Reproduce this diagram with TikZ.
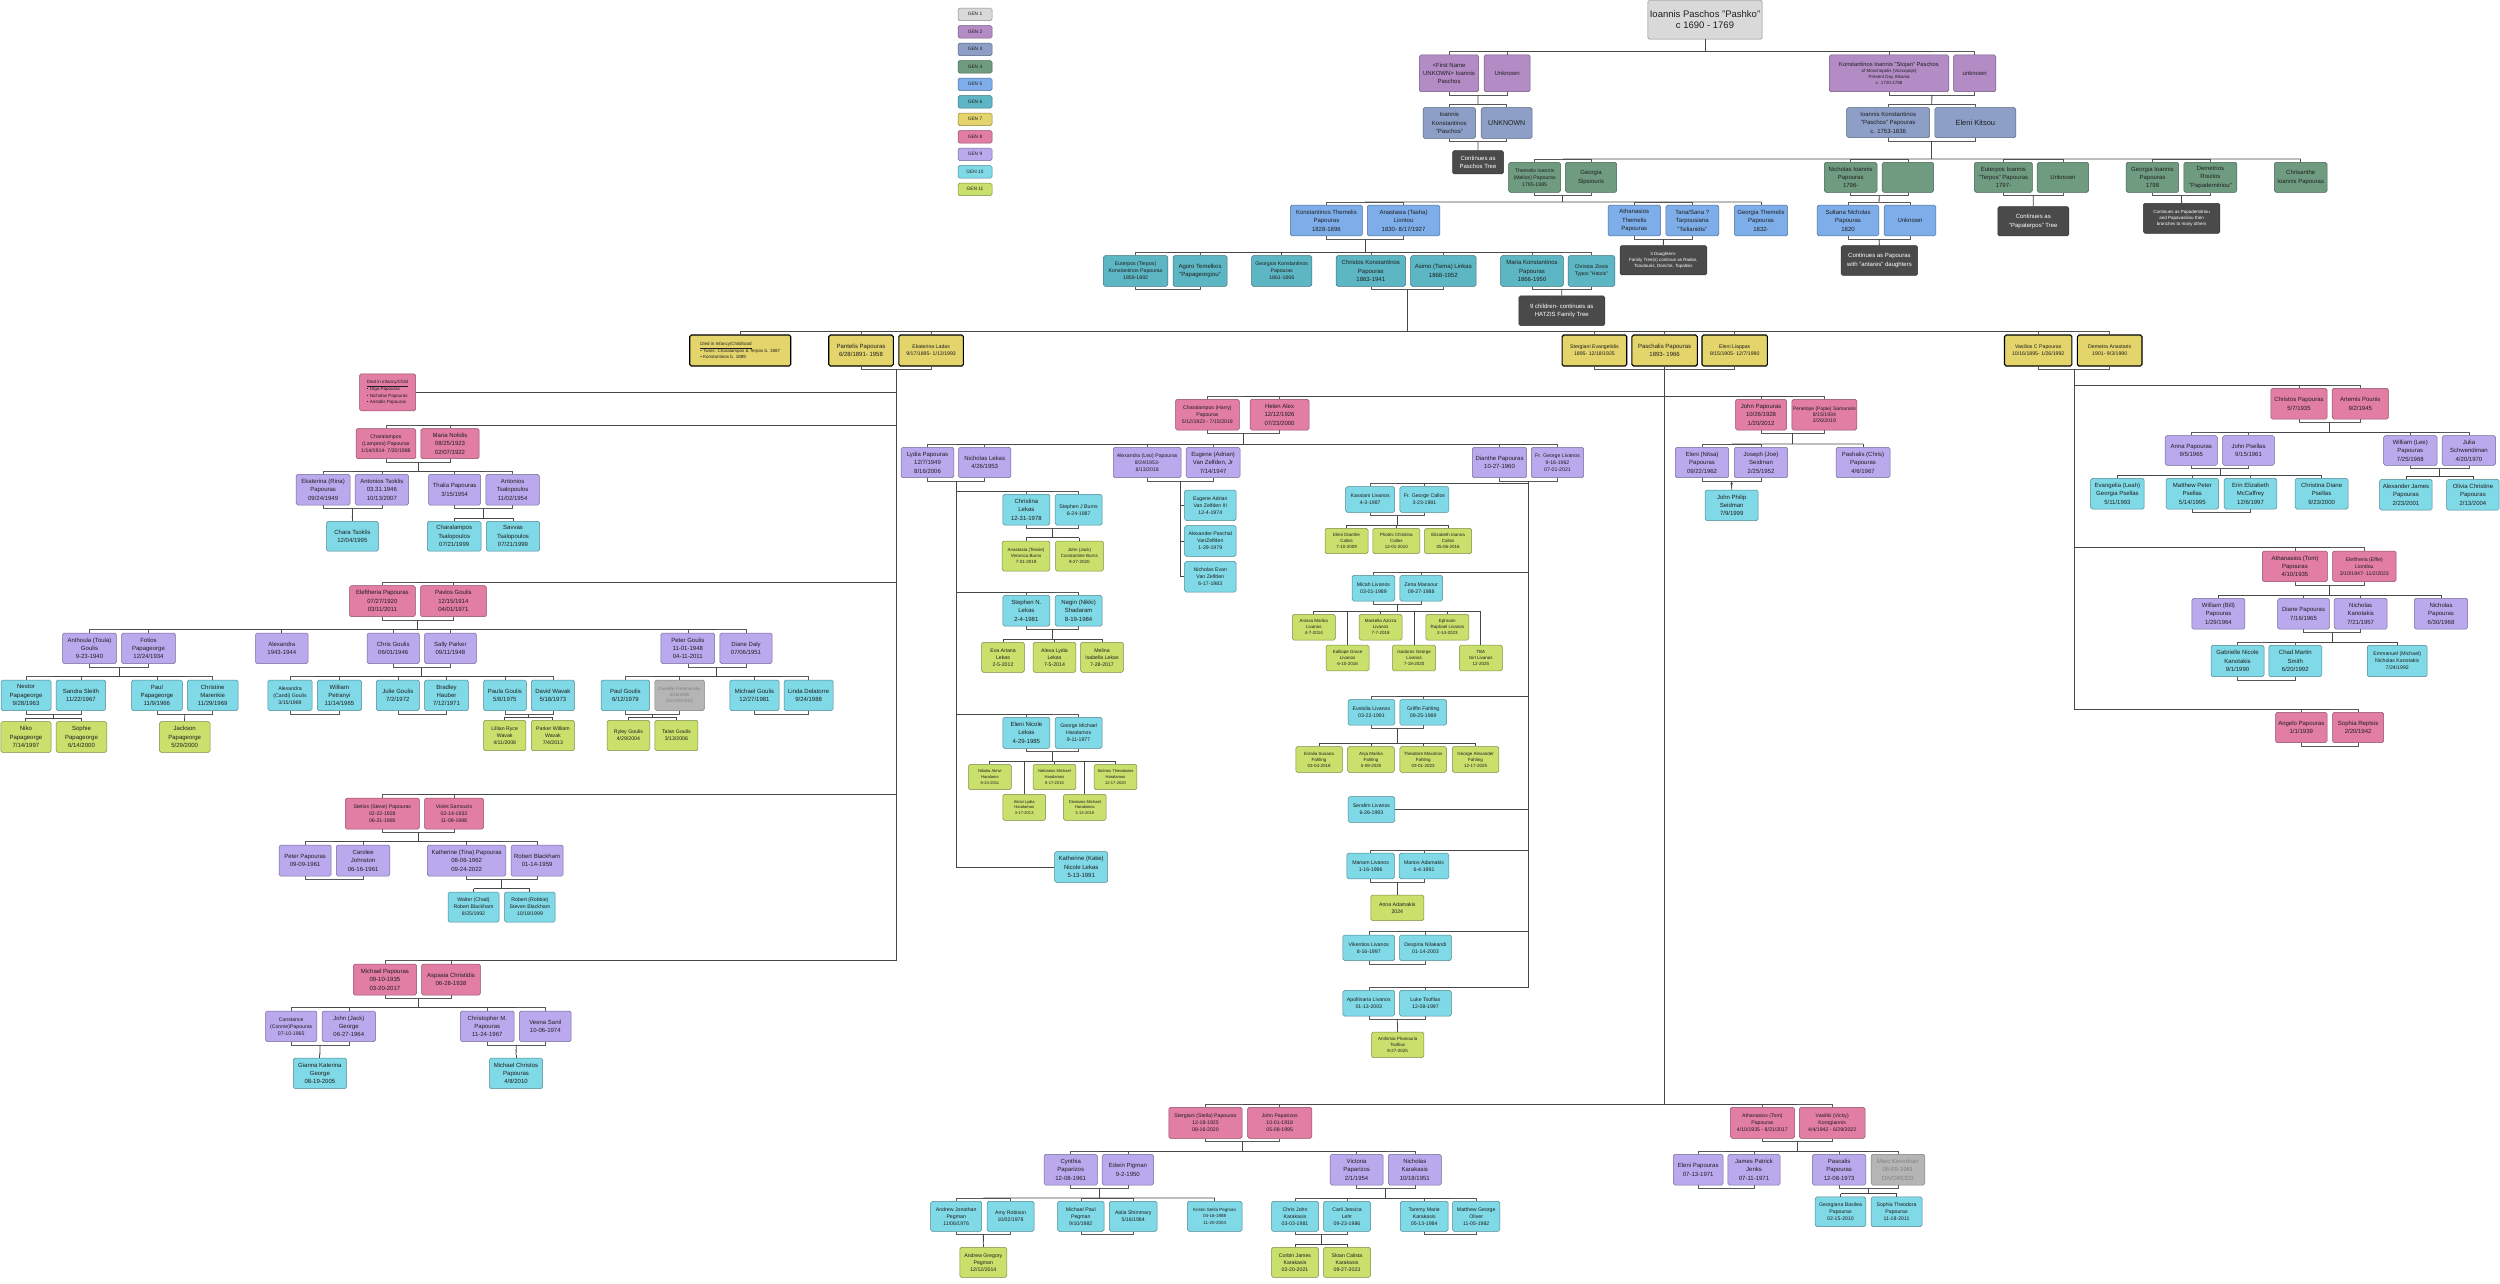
\documentclass[tikz,border=0pt]{standalone}
\usepackage{fontspec}
\setmainfont{Liberation Sans}
\usetikzlibrary{calc,arrows.meta}

\definecolor{genA}{HTML}{D9D9D9}
\definecolor{genB}{HTML}{B38CC6}
\definecolor{genC}{HTML}{8D9FC7}
\definecolor{genD}{HTML}{6F9C81}
\definecolor{genE}{HTML}{7EAEEA}
\definecolor{genF}{HTML}{5DB6C3}
\definecolor{genG}{HTML}{E3D46C}
\definecolor{genH}{HTML}{E27DA3}
\definecolor{genI}{HTML}{BBA9EE}
\definecolor{genJ}{HTML}{80D9E6}
\definecolor{genK}{HTML}{C9E06C}
\definecolor{darkbox}{HTML}{4A4A4A}
\definecolor{divgray}{HTML}{B5B5B5}

\tikzset{
  box/.style={rectangle, rounded corners=1.6pt, line width=0.5pt, align=center,
    inner sep=0.6pt, minimum height=30.6pt, text=black!88,
    font=\fontsize{6}{8.4}\selectfont},
  gen/.style={box, fill=#1, draw=#1!62!black},
  g1/.style={gen=genA}, g2/.style={gen=genB}, g3/.style={gen=genC},
  g4/.style={gen=genD}, g5/.style={gen=genE}, g6/.style={gen=genF},
  g7/.style={box, fill=genG, draw=black, line width=1.1pt},
  g8/.style={gen=genH}, g9/.style={gen=genI}, g10/.style={gen=genJ},
  g11/.style={gen=genK},
  dark/.style={box, fill=darkbox, draw=darkbox!70!black, text=white},
  div/.style={box, fill=divgray, draw=divgray!70!black, text=black!50},
  wd/.style={minimum width=#1pt},
  ht/.style={minimum height=#1pt},
  low/.style={minimum height=25.6pt},
  fine/.style={font=\fontsize{5.2}{7}\selectfont},
  tiny/.style={font=\fontsize{4.5}{6.1}\selectfont},
  micro/.style={font=\fontsize{4.1}{5.7}\selectfont},
  leg/.style={minimum width=34pt, minimum height=12.5pt, font=\fontsize{4.8}{5}\selectfont},
  link/.style={draw=black!72, line width=0.85pt},
  bond/.style={draw=black!65, line width=0.55pt},
}

% couple brackets above and below, with hang points T and B
\newcommand{\marry}[2]{%
  \draw[bond] (#1.north) -- ++(0,3pt) -| (#2.north);
  \draw[bond] (#1.south) -- ++(0,-3pt) -| (#2.south);
  \coordinate (#1T) at ($(#1.north)!.5!(#2.north)+(0,3pt)$);
  \coordinate (#1B) at ($(#1.south)!.5!(#2.south)+(0,-3pt)$);}
\newcommand{\lone}[1]{%
  \coordinate (#1T) at ($(#1.north)+(0,3pt)$);
  \coordinate (#1B) at (#1.south);
  \draw[link] (#1T) -- (#1.north);}
\newcommand{\brood}[3]{%
  \draw[link] (#1B) -- (#1B |- #2T);
  \draw[link] (#2T) -- (#3T);}
\newcommand{\twig}[2]{\draw[link] (#1B |- #2) -- (#2);}

\begin{document}
\begin{tikzpicture}[x=1pt, y=-1pt]
\useasboundingbox (0,0) rectangle (2500,1283);

% Legend
\foreach \i/\c in {1/genA,2/genB,3/genC,4/genD,5/genE,6/genF,7/genG,8/genH,9/genI,10/genJ,11/genK}
  \node[gen=\c, leg] (leg\i) at (975,{14.3+17.5*(\i-1)}) {GEN \i};

% Generation 1-3
\node[g1, wd=114.4, ht=39, font=\fontsize{9.5}{11.5}\selectfont] (ioannis) at (1705,19.7) {Ioannis Paschos "Pashko"\\c 1690 - 1769};
\node[g2, wd=59.4, ht=36.7] (fname) at (1449,73.3) {<First Name\\UNKOWN> Ioannis\\Paschos};
\node[g2, wd=46.2, ht=36.7] (unkA) at (1507.1,73.3) {Unknown};
\node[g2, wd=119.5, ht=36.7, tiny] (stojan) at (1889,73.3) {{\fontsize{5.8}{6.4}\selectfont Konstantinos Ioannis "Stojan" Paschos}\\of Moschopolis (Voscopoje)\\Present Day Albania\\c. 1720-1788};
\node[g2, wd=42.3, ht=36.7] (unkB) at (1974.7,73.3) {unknown};
\node[g3, wd=52.6] (ikp) at (1449.3,123) {Ioannis\\Konstantinos\\"Paschos"};
\node[g3, wd=51, font=\fontsize{7}{8}\selectfont] (unkC) at (1506.7,123) {UNKNOWN};
\node[g3, wd=83, ht=30] (ikpb) at (1888.2,122.7) {Ioannis Konstantinos\\"Paschos" Papouras\\c. 1753-1836};
\node[g3, wd=81, ht=30, font=\fontsize{7.5}{8}\selectfont] (kitsou) at (1975.3,122.7) {Eleni Kitsou};
\node[dark, wd=51, ht=23.3] (contPaschos) at (1478,162.3) {Continues as\\Paschos Tree};

% Generation 4
\node[g4, wd=51.8, ht=30, fine] (themelis) at (1534.6,177.3) {Themelis Ioannis\\(Melios) Papouras\\1795-1885};
\node[g4, wd=51.4, ht=30] (georgiaS) at (1591,177.3) {Georgia\\Sipsiouris};
\node[g4, wd=52.6, ht=30] (nicholasI) at (1850.7,177.3) {Nicholas Ioannis\\Papouras\\1796-};
\node[g4, wd=51.4, ht=30] (emptyG) at (1907.9,177.3) {};
\node[g4, wd=58, ht=30] (euterposI) at (2003.4,177.3) {Euterpos Ioannis\\"Terpos" Papouras\\1797-};
\node[g4, wd=51.4, ht=30] (unkD) at (2062.9,177.3) {Unknown};
\node[g4, wd=52.6, ht=30] (georgiaI) at (2152.4,177.3) {Georgia Ioannis\\Papouras\\1798};
\node[g4, wd=53, ht=30] (demetrios) at (2210.4,177.3) {Demetrios\\Roulios\\"Papademitriou"};
\node[g4, wd=52.6, ht=30] (chrisanthe) at (2300.7,177.3) {Chrisanthe\\Ioannis Papouras};

% Generation 5
\node[g5, wd=72] (konstT) at (1326.4,220.5) {Konstantinos Themelis\\Papouras\\1828-1896};
\node[g5, wd=72.5] (anastasia) at (1403.5,220.5) {Anastasia (Tasha)\\Liontou\\1830- 8/17/1927};
\node[g5, wd=52.6] (athanasiosT) at (1634.3,220.5) {Athanasios\\Themelis\\Papouras};
\node[g5, wd=53] (tana) at (1692.3,220.5) {Tana/Sana ?\\Tarpousiana\\"Tsilianidis"};
\node[g5, wd=53.4] (georgiaT) at (1761,220.5) {Georgia Themelis\\Papouras\\1832-};
\node[g5, wd=61.8] (sultana) at (1848,220.5) {Sultana Nicholas\\Papouras\\1820};
\node[g5, wd=51.8] (unkE) at (1910,220.5) {Unknown};
\node[dark, wd=71, ht=29.3] (contTerpos) at (2033.3,221.3) {Continues as\\"Papaterpos" Tree};
\node[dark, wd=76.5, ht=30, tiny] (contPapadem) at (2181.6,218.3) {Continues as Papademitriou\\and Papavasiliou then\\branches to many others};

% Generation 6
\node[g6, wd=64.6, fine] (euterposK) at (1135.6,271) {Euterpos (Terpos)\\Konstantinos Papouras\\1859-1892};
\node[g6, wd=54] (agoro) at (1200,271) {Agoro Temelkos\\"Papageorgiou"};
\node[g6, wd=60.2, fine] (georgios) at (1281.7,271) {Georgios Konstantinos\\Papouras\\1861-1866};
\node[g6, wd=69.4] (christosK) at (1370.8,271) {Christos Konstantinos\\Papouras\\1863-1941};
\node[g6, wd=65.4] (asimo) at (1443.3,271) {Asimo (Tsima) Linkas\\1868-1952};
\node[g6, wd=62.6] (mariaK) at (1532,271) {Maria Konstantinos\\Papouras\\1866-1950};
\node[g6, wd=46.7, fine] (christosZ) at (1591.4,271) {Christos Zissis\\Typos "Hatzis"};
\node[dark, wd=86.8, ht=29.3, tiny] (daughters) at (1663.4,260.3) {3 Daughters-\\Family Tree(s) continue as Rados,\\Tsoutouris, Donche, Topaltsis};
\node[dark, wd=76.6, ht=29.6] (contAntares) at (1879.4,260.5) {Continues as Papouras\\with "antares" daughters};
\node[dark, wd=86, ht=29.7] (hatzis) at (1561.8,310.8) {9 children- continues as\\HATZIS Family Tree};

% Generation 7
\node[g7, wd=101, ht=31, tiny, align=left] (diedY) at (740.2,350.5) {\underline{Died in Infancy/Childhood}\\• Twins: Charalampos \& Terpos b. 1887\\• Konstantinos b. 1889};
\node[g7, wd=64.6, ht=31] (pantelis) at (861,350.5) {Pantelis Papouras\\6/28/1891- 1958};
\node[g7, wd=64.6, ht=31, fine] (ekaterinaL) at (931.1,350.5) {Ekaterina Ladas\\9/17/1895- 1/13/1993};
\node[g7, wd=64.6, ht=31, fine] (stergianiE) at (1594.4,350.5) {Stergiani Evangelidis\\1895- 12/18/1925};
\node[g7, wd=65.4, ht=31] (paschalis) at (1664.6,350.5) {Paschalis Papouras\\1893- 1966};
\node[g7, wd=65.4, ht=31, fine] (eleniL) at (1734.7,350.5) {Eleni Liappas\\8/15/1905- 12/7/1990};
\node[g7, wd=67.4, ht=31, fine] (vasilios) at (2038.2,350.5) {Vasilios C Papouras\\10/16/1895- 1/26/1992};
\node[g7, wd=64.6, ht=31, fine] (demetra) at (2109.7,350.5) {Demetra Anastaris\\1901- 9/3/1990};

% Generation 8
\node[g8, wd=56, ht=37, tiny, align=left] (diedP) at (387.6,392.3) {\underline{Died in Infancy/Child}\\• Olga Papouras\\• Nicholas Papouras\\• Aristidis Papouras};
\node[g8, wd=59.8, ht=30, fine] (lampros) at (385.9,443.7) {Charalampos\\(Lampros) Papouras\\1/14/1914- 7/20/1988};
\node[g8, wd=58.2, ht=30] (mariaN) at (450,443.7) {Maria Nolidis\\08/25/1923\\02/07/1922};
\node[g8, wd=63.8, fine] (harry) at (1207.4,414.7) {Charalampos (Harry)\\Papouras\\5/12/1923 - 7/15/2019};
\node[g8, wd=59] (helen) at (1279.5,414.7) {Helen Alex\\12/12/1926\\07/23/2000};
\node[g8, wd=51] (johnP) at (1761,414.7) {John Papouras\\10/26/1928\\1/20/2012};
\node[g8, wd=65, tiny] (penelope) at (1824.4,414.7) {{\fontsize{5}{6}\selectfont Penelope (Popie) Samararis}\\{\fontsize{5.2}{6}\selectfont 8/15/1934}\\{\fontsize{5.2}{6}\selectfont 2/26/2019}};
\node[g8, wd=65.7, ht=31] (eleftheria) at (382.4,601.2) {Eleftheria Papouras\\07/27/1920\\03/11/2011};
\node[g8, wd=65.8, ht=31] (pavlos) at (453.4,601.2) {Pavlos Goulis\\12/15/1914\\04/01/1971};
\node[g8, wd=74.1, ht=31, fine] (stelios) at (382.3,813.5) {Stelios (Steve) Papouras\\02-22-1928\\06-21-1995};
\node[g8, wd=59, ht=31, fine] (violet) at (454,813.5) {Violet Samouris\\02-14-1933\\11-09-1998};
\node[g8, wd=63.3, ht=31] (michaelP) at (384.9,979.5) {Michael Papouras\\09-10-1935\\03-20-2017};
\node[g8, wd=58.6, ht=31] (aspasia) at (451,979.5) {Aspasia Christidis\\06-28-1938};
\node[g8, wd=73.3, ht=31, fine] (stella) at (1205.4,1122.8) {Stergiani (Stella) Papouras\\12-18-1925\\08-16-2020};
\node[g8, wd=64.2, ht=31, fine] (johnPz) at (1279.7,1122.8) {John Paparizos\\10-01-1918\\05-08-1995};
\node[g8, wd=64.2, ht=31, fine] (tomA) at (1762.4,1122.8) {Athanasios (Tom)\\Papouras\\4/10/1935 - 8/21/2017};
\node[g8, wd=65.7, ht=31, fine] (vicky) at (1832.2,1122.8) {Vasiliki (Vicky)\\Korogiannis\\4/4/1942 - 6/29/2022};
\node[g8, wd=56.2] (christosP) at (2298.9,403.7) {Christos Papouras\\5/7/1935};
\node[g8, wd=56.2] (artemis) at (2360.3,403.7) {Artemis Pounis\\9/2/1945};
\node[g8, wd=65] (tomB) at (2294.9,566.3) {Athanasios (Tom)\\Papouras\\4/10/1935};
\node[g8, wd=63.4, fine] (effie) at (2364.3,566.3) {Eleftheria (Effie)\\Liondou\\3/10/1947- 11/2/2023};
\node[g8, wd=51.4, ht=30.4] (angelo) at (2301.3,727.5) {Angelo Papouras\\1/1/1939};
\node[g8, wd=51, ht=30.4] (sophiaR) at (2358.1,727.5) {Sophia Reptsis\\2/20/1942};

% Generation 9
\node[g9, wd=53.8] (ekaterinaR) at (323.1,489.7) {Ekaterina (Rina)\\Papouras\\09/24/1949};
\node[g9, wd=53.4] (antoniosTk) at (381.9,489.7) {Antonios Tsoklis\\03.31.1946\\10/13/2007};
\node[g9, wd=52.2] (thalia) at (454.6,489.7) {Thalia Papouras\\3/15/1954};
\node[g9, wd=53.4] (antoniosTs) at (512.6,489.7) {Antonios\\Tsalopoulos\\11/02/1954};
\node[g9, wd=53.8] (anthoula) at (89.5,648.3) {Anthoula (Toula)\\Goulis\\9-23-1940};
\node[g9, wd=53.8] (fotios) at (148.5,648.3) {Fotios\\Papageorge\\12/24/1934};
\node[g9, wd=52.6] (alexandraG) at (281.8,648.3) {Alexandra\\1943-1944};
\node[g9, wd=52.2] (chrisG) at (393.2,648.3) {Chris Goulis\\06/01/1946};
\node[g9, wd=51.8] (sally) at (450.4,648.3) {Sally Parker\\09/11/1948};
\node[g9, wd=53.8] (peterG) at (687.8,648.3) {Peter Goulis\\11-01-1948\\04-11-2011};
\node[g9, wd=52.2] (diane) at (746,648.3) {Diane Daly\\07/06/1951};
\node[g9, wd=52.2, ht=31] (peterP) at (305.1,860.5) {Peter Papouras\\09-09-1961};
\node[g9, wd=53.4, ht=31] (carolee) at (363.1,860.5) {Carolee\\Johnston\\06-16-1961};
\node[g9, wd=78.5, ht=31] (katherineT) at (466.6,860.5) {Katherine (Tina) Papouras\\08-06-1962\\09-24-2022};
\node[g9, wd=52.2, ht=31] (robertB) at (537.1,860.5) {Robert Blackham\\01-14-1959};
\node[g9, wd=51.4, fine] (constance) at (291.2,1026.3) {Constance\\(Connie)Papouras\\07-10-1965};
\node[g9, wd=53.4] (johnJack) at (348.8,1026.3) {John (Jack)\\George\\06-27-1964};
\node[g9, wd=53.8] (christopher) at (487.3,1026.3) {Christopher M.\\Papouras\\11-24-1967};
\node[g9, wd=51.8] (veena) at (545.3,1026.3) {Veena Sanil\\10-06-1974};
\node[g9, wd=52.6, ht=30.4] (lydia) at (927.5,462.5) {Lydia Papouras\\12/7/1949\\8/16/2006};
\node[g9, wd=52.2, ht=30.4] (nicholasL) at (984.7,462.5) {Nicholas Lekas\\4/26/1953};
\node[g9, wd=67.8, ht=30.4, fine] (alexandraL) at (1147.2,462.5) {Alexandra (Leo) Papouras\\8/24/1953-\\8/13/2018};
\node[g9, wd=53.8, ht=30.4] (eugeneJr) at (1213.1,462.5) {Eugene (Adrian)\\Van Zelfden, Jr\\7/14/1947};
\node[g9, wd=54.2, ht=30.4] (dianthe) at (1499.5,462.5) {Dianthe Papouras\\10-27-1960};
\node[g9, wd=52.2, ht=30.4, fine] (georgeL) at (1557.5,462.5) {Fr. George Livanos\\9-16-1962\\07-01-2021};
\node[g9, wd=53.4, ht=30.4] (eleniN) at (1702,462.5) {Eleni (Nitsa)\\Papouras\\09/22/1962};
\node[g9, wd=53.4, ht=30.4] (joseph) at (1761,462.5) {Joseph (Joe)\\Seidman\\2/25/1952};
\node[g9, wd=54, ht=30.4] (pashalis) at (1863,462.5) {Pashalis (Chris)\\Papouras\\4/6/1967};
\node[g9, wd=52.2, ht=29.6] (anna) at (2191.3,450.5) {Anna Papouras\\9/5/1965};
\node[g9, wd=51.8, ht=29.6] (johnPs) at (2248.5,450.5) {John Psellas\\9/15/1961};
\node[g9, wd=53.4, ht=29.6] (william) at (2410.3,450.5) {William (Lee)\\Papouras\\7/25/1968};
\node[g9, wd=53.4, ht=29.6] (julia) at (2468.9,450.5) {Julia\\Schwendiman\\4/20/1970};
\node[g9, wd=53] (bill) at (2218.4,613.7) {William (Bill)\\Papouras\\1/29/1964};
\node[g9, wd=51.8] (dianeP) at (2303.5,613.7) {Diane Papouras\\7/16/1965};
\node[g9, wd=53] (nicholasK) at (2360.7,613.7) {Nicholas\\Kanotakis\\7/21/1957};
\node[g9, wd=53.4] (nicholasP) at (2441,613.7) {Nicholas\\Papouras\\6/30/1968};
\node[g9, wd=53.3] (cynthia) at (1070.7,1169.7) {Cynthia\\Paparizos\\12-08-1961};
\node[g9, wd=51.4] (edwin) at (1127.8,1169.7) {Edwin Pigman\\9-2-1950};
\node[g9, wd=53] (victoria) at (1356.6,1169.7) {Victoria\\Paparizos\\2/1/1954};
\node[g9, wd=53] (nicholasKa) at (1414.8,1169.7) {Nicholas\\Karakasis\\10/18/1951};
\node[g9, wd=49.8] (eleniP) at (1698.2,1169.7) {Eleni Papouras\\07-13-1971};
\node[g9, wd=52.2] (james) at (1754,1169.7) {James Patrick\\Jenks\\07-11-1971};
\node[g9, wd=53.4] (pascalis) at (1839.1,1169.7) {Pascalis\\Papouras\\12-08-1973};
\node[div, wd=53.8] (marc) at (1897.9,1169.7) {Marc Kevorkian\\06-09-1981\\DIVORCED};

% Generation 10
\node[g10, wd=51.8, ht=29.7] (chara) at (352.4,536.2) {Chara Tsoklis\\12/04/1995};
\node[g10, wd=53.8, ht=29.7] (charTsal) at (454.2,536.2) {Charalampos\\Tsalopoulos\\07/21/1999};
\node[g10, wd=53.4, ht=29.7] (savvas) at (513,536.2) {Savvas\\Tsalopoulos\\07/21/1999};
\node[g10, wd=50] (nestor) at (26,695.3) {Nestor\\Papageorge\\9/28/1963};
\node[g10, wd=49.4] (sandra) at (80.9,695.3) {Sandra Sleith\\11/22/1967};
\node[g10, wd=50.7] (paulP) at (156.9,695.3) {Paul\\Papageorge\\11/9/1966};
\node[g10, wd=50.7] (christine) at (212.7,695.3) {Christine\\Marenkie\\11/29/1969};
\node[g10, wd=44.2, fine] (alexandraC) at (290,695.3) {Alexandra\\(Candi) Goulis\\3/15/1969};
\node[g10, wd=44.2] (williamP) at (339.4,695.3) {William\\Petranyi\\11/14/1965};
\node[g10, wd=43] (julie) at (397.8,695.3) {Julie Goulis\\7/2/1972};
\node[g10, wd=43.9] (bradley) at (446.5,695.3) {Bradley\\Hauber\\7/12/1971};
\node[g10, wd=42.7] (paula) at (504.9,695.3) {Paula Goulis\\5/8/1975};
\node[g10, wd=43.1] (david) at (552.9,695.3) {David Wavak\\5/18/1973};
\node[g10, wd=48.6] (paulG) at (625.4,695.3) {Paul Goulis\\6/12/1979};
\node[div, wd=49.4, tiny] (danielle) at (679.6,695.3) {Danielle Fredmansky\\4/16/1980\\(DIVORCED)};
\node[g10, wd=49.4] (michaelG) at (754.5,695.3) {Michael Goulis\\12/27/1981};
\node[g10, wd=49] (linda) at (808.6,695.3) {Linda Delatorre\\9/24/1988};
\node[g10, wd=51, ht=30, fine] (walter) at (473.5,907) {Walter (Chad)\\Robert Blackham\\8/25/1992};
\node[g10, wd=50.6, ht=30, fine] (robbie) at (529.9,907) {Robert (Robbie)\\Steven Blackham\\10/18/1999};
\node[g10, wd=53] (gianna) at (319.9,1073.3) {Gianna Katerina\\George\\08-19-2005};
\node[g10, wd=53] (michaelC) at (516,1073.3) {Michael Christos\\Papouras\\4/8/2010};
\node[g10, wd=47] (christina) at (1026.4,509.7) {Christina\\Lekas\\12-31-1978};
\node[g10, wd=47, fine] (stephenJ) at (1078.6,509.7) {Stephen J Burns\\6-24-1987};
\node[g10, wd=47] (stephenN) at (1026.4,610.7) {Stephen N.\\Lekas\\2-4-1981};
\node[g10, wd=47] (negin) at (1078.6,610.7) {Negin (Nikki)\\Shadaram\\8-19-1984};
\node[g10, wd=47, ht=31] (eleniNL) at (1026.4,732.8) {Eleni Nicole\\Lekas\\4-29-1985};
\node[g10, wd=47, ht=31, fine] (georgeM) at (1078.6,732.8) {George Michael\\Haralamos\\9-11-1977};
\node[g10, wd=53] (katie) at (1081.2,867) {Katherine (Katie)\\Nicole Lekas\\5-13-1991};
\node[g10, wd=51.4, fine] (eugene3) at (1210.3,505.3) {Eugene Adrian\\Van Zelfden III\\12-4-1974};
\node[g10, wd=51.4, fine] (alexanderP) at (1210.3,541) {Alexander Paschal\\VanZelfden\\1-29-1979};
\node[g10, wd=51.4, fine] (nicholasE) at (1210.3,576.7) {Nicholas Evan\\Van Zelfden\\6-17-1983};
\node[g10, wd=49, low, fine] (kassiani) at (1370.2,499.5) {Kassiani Livanos\\4-3-1987};
\node[g10, wd=49, low, fine] (georgeC) at (1424.4,499.5) {Fr. George Callos\\3-23-1981};
\node[g10, wd=42.7, low, fine] (micah) at (1373.4,588.2) {Micah Livanos\\03-01-1989};
\node[g10, wd=42.7, low, fine] (zena) at (1421.2,588.2) {Zena Mansour\\09-27-1988};
\node[g10, wd=46.7, low, fine] (evstolia) at (1371.4,712.3) {Evstolia Livanos\\03-22-1991};
\node[g10, wd=46.7, low, fine] (griffin) at (1423.2,712.3) {Griffin Fahling\\09-25-1989};
\node[g10, wd=46.7, low, fine] (serafim) at (1371.4,809.5) {Serafim Livanos\\6-26-1993};
\node[g10, wd=47.4, low, fine] (mariam) at (1370.6,866) {Mariam Livanos\\1-16-1996};
\node[g10, wd=49.8, low, fine] (marios) at (1424,866) {Marios Adamakis\\6-4-1991};
\node[g10, wd=51.8, low, fine] (vikentios) at (1368.8,947.8) {Vikentios Livanos\\8-16-1997};
\node[g10, wd=51.8, low, fine] (despina) at (1425.4,947.8) {Despina Nilakandi\\01-14-2003};
\node[g10, wd=51.8, low, fine] (apollinaria) at (1368.8,1003.2) {Apollinaria Livanos\\01-13-2003};
\node[g10, wd=51.8, low, fine] (luke) at (1425.4,1003.2) {Luke Tsoflias\\12-08-1997};
\node[g10, wd=53] (johnPhilip) at (1731.7,505.3) {John Philip\\Seidman\\7/9/1999};
\node[g10, wd=53.5] (evangelia) at (2117.4,493.7) {Evangelia (Leah)\\Georgia Psellas\\5/11/1993};
\node[g10, wd=52.6] (matthew) at (2192.3,493.7) {Matthew Peter\\Psellas\\5/14/1995};
\node[g10, wd=52.6] (erin) at (2250.5,493.7) {Erin Elizabeth\\McCaffrey\\12/6/1997};
\node[g10, wd=53] (christinaD) at (2321.6,493.7) {Christina Diane\\Psellas\\9/23/2000};
\node[g10, wd=52.6] (alexanderJ) at (2405.9,494.7) {Alexander James\\Papouras\\2/23/2001};
\node[g10, wd=52.6] (olivia) at (2472.9,494.7) {Olivia Christine\\Papouras\\2/13/2004};
\node[g10, wd=53, ht=31.3] (gabrielle) at (2237.5,661) {Gabrielle Nicole\\Kanotakis\\9/1/1990};
\node[g10, wd=53, ht=31.3] (chad) at (2295.3,661) {Chad Martin\\Smith\\6/20/1992};
\node[g10, wd=59.8, ht=31.3, fine] (emmanuel) at (2397.2,661) {Emmanuel (Michael)\\Nicholas Kanotakis\\7/24/1992};
\node[g10, wd=51, ht=30, fine] (andrewJ) at (956.2,1216.3) {Andrew Jonathan\\Pegman\\11/06/1976};
\node[g10, wd=47, ht=30, fine] (amy) at (1010.5,1216.3) {Amy Robison\\10/02/1978};
\node[g10, wd=46.6, ht=30, fine] (michaelPP) at (1080.8,1216.3) {Michael Paul\\Pegman\\9/10/1982};
\node[g10, wd=47.8, ht=30, fine] (aalia) at (1133.2,1216.3) {Aalia Shimmary\\5/16/1984};
\node[g10, wd=54.6, ht=30, tiny] (kristin) at (1214.7,1216.3) {Kristin Stella Pegman\\04-16-1988\\11-20-2004};
\node[g10, wd=47, ht=30, fine] (chrisJ) at (1295,1216.3) {Chris John\\Karakasis\\03-03-1981};
\node[g10, wd=47, ht=30, fine] (carli) at (1347,1216.3) {Carli Jessica\\Lehr\\09-23-1986};
\node[g10, wd=47.8, ht=30, fine] (tammy) at (1424.2,1216.3) {Tammy Marie\\Karakasis\\05-13-1984};
\node[g10, wd=47.4, ht=30, fine] (matthewG) at (1476.2,1216.3) {Matthew George\\Oliver\\11-05-1982};
\node[g10, wd=50.6, ht=29.7, fine] (georgiana) at (1840.5,1211.8) {Georgiana Basilea\\Papouras\\02-15-2010};
\node[g10, wd=51, ht=29.7, fine] (sophiaT) at (1896.5,1211.8) {Sophia Theodora\\Papouras\\11-18-2011};

% Generation 11
\node[g11, wd=50.2] (niko) at (25.9,737) {Niko\\Papageorge\\7/14/1997};
\node[g11, wd=50.6] (sophieP) at (81.5,737) {Sophie\\Papageorge\\6/14/2000};
\node[g11, wd=50.6] (jackson) at (184.7,737) {Jackson\\Papageorge\\5/29/2000};
\node[g11, wd=42.3, ht=30.4, fine] (lillian) at (504.7,735.5) {Lillian Ryce\\Wavak\\4/11/2008};
\node[g11, wd=43.1, ht=30.4, fine] (parker) at (552.9,735.5) {Parker William\\Wavak\\7/4/2013};
\node[g11, wd=42.7, ht=30.4, fine] (ryley) at (628.4,735.5) {Ryley Goulis\\4/29/2004};
\node[g11, wd=43, ht=30.4, fine] (talan) at (676.4,735.5) {Talan Goulis\\3/13/2006};
\node[g11, wd=47.8, ht=30, tiny] (anastasiaB) at (1026,556) {Anastasia (Tessie)\\Veronica Burns\\7-01-2019};
\node[g11, wd=47.8, ht=30, tiny] (johnJB) at (1079.4,556) {John (Jack)\\Constantine Burns\\9-27-2020};
\node[g11, wd=42.7, ht=30, fine] (eva) at (1003,657.3) {Eva Ariana\\Lekas\\2-5-2012};
\node[g11, wd=42.7, ht=30, fine] (alexa) at (1054.5,657.3) {Alexa Lydia\\Lekas\\7-5-2014};
\node[g11, wd=42.7, ht=30, fine] (melina) at (1102,657.3) {Melina\\Isabella Lekas\\7-28-2017};
\node[g11, wd=42.7, ht=25.3, micro] (nikolia) at (989.9,777) {Nikolia Akrivi\\Haralams\\8-24-2011};
\node[g11, wd=42.7, ht=25.3, micro] (nektarios) at (1054.5,777) {Nektarios Michael\\Haralamos\\8-17-2015};
\node[g11, wd=42.7, ht=25.3, micro] (sotirios) at (1115.5,777) {Sotirios Theodosios\\Haralamos\\12-17-2020};
\node[g11, wd=42.7, ht=26, micro] (akrivi) at (1024.2,807.3) {Akrivi Lydia\\Haralamos\\3-17-2013};
\node[g11, wd=42.7, ht=26, micro] (dionisios) at (1084.8,807.3) {Dionisios Michael\\Haralamos\\3-13-2018};
\node[g11, wd=43, ht=25.3, tiny] (eleniD) at (1346.5,541) {Eleni Dianthe\\Callos\\7-10-2009};
\node[g11, wd=47, ht=25.3, tiny] (photini) at (1396.3,541) {Photini Christina\\Callos\\12-01-2010};
\node[g11, wd=47, ht=25.3, tiny] (elizabeth) at (1448.1,541) {Elizabeth Ioanna\\Callos\\05-06-2016};
\node[g11, wd=43, low, tiny] (anissa) at (1313.8,627.2) {Anissa Marika\\Livanos\\4-7-2014};
\node[g11, wd=43, low, tiny] (markella) at (1380.5,627.2) {Markella Azizza\\Livanos\\7-7-2018};
\node[g11, wd=43, low, tiny] (ephraim) at (1447.3,627.2) {Ephraim\\Raphael Livanos\\2-14-2023};
\node[g11, wd=43, low, tiny] (kalliope) at (1347.5,658) {Kalliope Grace\\Livanos\\6-10-2016};
\node[g11, wd=43, low, tiny] (isodoros) at (1414,658) {Isodoros George\\Livanos\\7-18-2020};
\node[g11, wd=43, low, tiny] (tba) at (1480.8,658) {TBA\\Girl Livanos\\12-2025};
\node[g11, wd=46.7, low, tiny] (evlalia) at (1319.1,759.5) {Evlalia Susana\\Fahling\\03-04-2018};
\node[g11, wd=46.7, low, tiny] (anja) at (1371,759.5) {Anja Marika\\Fahling\\5-08-2020};
\node[g11, wd=46.7, low, tiny] (theodore) at (1423.2,759.5) {Theodore Maximos\\Fahling\\03-01-2023};
\node[g11, wd=46.7, low, tiny] (georgeA) at (1475.6,759.5) {George Alexander\\Fahling\\12-17-2025};
\node[g11, wd=53, low, fine] (annaA) at (1397.3,907.8) {Anna Adamakis\\2024};
\node[g11, wd=52.2, low, tiny] (anthimia) at (1397.7,1044.8) {Anthimia Phanouria\\Tsoflias\\8-27-2025};
\node[g11, wd=47, ht=30, fine] (andrewG) at (983.3,1262.3) {Andrew Gregory\\Pegman\\12/12/2014};
\node[g11, wd=47, ht=30, fine] (corbin) at (1295,1262.3) {Corbin James\\Karakasis\\02-20-2021};
\node[g11, wd=47, ht=30, fine] (sloan) at (1347,1262.3) {Sloan Calista\\Karakasis\\09-27-2023};

% Couples and single hang points
\marry{fname}{unkA} \marry{stojan}{unkB} \marry{ikp}{unkC} \marry{ikpb}{kitsou}
\marry{themelis}{georgiaS} \marry{nicholasI}{emptyG} \marry{euterposI}{unkD}
\marry{georgiaI}{demetrios} \lone{chrisanthe}
\marry{konstT}{anastasia} \marry{athanasiosT}{tana} \lone{georgiaT} \marry{sultana}{unkE}
\marry{euterposK}{agoro} \lone{georgios} \marry{christosK}{asimo} \marry{mariaK}{christosZ}
\lone{diedY} \marry{pantelis}{ekaterinaL} \marry{stergianiE}{paschalis}
\marry{paschalis}{eleniL} \marry{vasilios}{demetra}
\marry{lampros}{mariaN} \marry{harry}{helen} \marry{johnP}{penelope}
\marry{eleftheria}{pavlos} \marry{stelios}{violet} \marry{michaelP}{aspasia}
\marry{stella}{johnPz} \marry{tomA}{vicky} \marry{christosP}{artemis}
\marry{tomB}{effie} \marry{angelo}{sophiaR}
\marry{ekaterinaR}{antoniosTk} \marry{thalia}{antoniosTs}
\marry{anthoula}{fotios} \lone{alexandraG} \marry{chrisG}{sally} \marry{peterG}{diane}
\marry{peterP}{carolee} \marry{katherineT}{robertB}
\marry{constance}{johnJack} \marry{christopher}{veena}
\marry{lydia}{nicholasL} \marry{alexandraL}{eugeneJr} \marry{dianthe}{georgeL}
\marry{eleniN}{joseph} \lone{pashalis}
\marry{anna}{johnPs} \marry{william}{julia}
\lone{bill} \marry{dianeP}{nicholasK} \lone{nicholasP}
\marry{cynthia}{edwin} \marry{victoria}{nicholasKa} \marry{eleniP}{james} \marry{pascalis}{marc}
\lone{chara} \lone{charTsal} \lone{savvas}
\marry{nestor}{sandra} \marry{paulP}{christine}
\marry{alexandraC}{williamP} \marry{julie}{bradley} \marry{paula}{david}
\marry{paulG}{danielle} \marry{michaelG}{linda}
\lone{walter} \lone{robbie} \lone{gianna} \lone{michaelC}
\marry{christina}{stephenJ} \marry{stephenN}{negin} \marry{eleniNL}{georgeM}
\marry{kassiani}{georgeC} \marry{micah}{zena} \marry{evstolia}{griffin}
\marry{mariam}{marios} \marry{vikentios}{despina} \marry{apollinaria}{luke}
\lone{evangelia} \marry{matthew}{erin} \lone{christinaD} \lone{alexanderJ} \lone{olivia}
\marry{gabrielle}{chad} \lone{emmanuel}
\marry{andrewJ}{amy} \marry{michaelPP}{aalia} \lone{kristin}
\marry{chrisJ}{carli} \marry{tammy}{matthewG} \lone{georgiana} \lone{sophiaT}
\lone{niko} \lone{sophieP} \lone{jackson} \lone{lillian} \lone{parker} \lone{ryley} \lone{talan}
\lone{anastasiaB} \lone{johnJB} \lone{eva} \lone{alexa} \lone{melina}
\lone{nikolia} \lone{nektarios} \lone{sotirios}
\lone{eleniD} \lone{photini} \lone{elizabeth} \lone{anissa} \lone{markella} \lone{ephraim}
\lone{evlalia} \lone{anja} \lone{theodore} \lone{georgeA} \lone{annaA} \lone{anthimia}
\lone{andrewG} \lone{corbin} \lone{sloan}

% Early generations
\coordinate (ioannisB) at (ioannis.south);
\brood{ioannis}{fname}{stojan}
\draw[link] (fnameB) -- (ikpT);
\draw[link] (stojanB) -- (ikpbT);
\draw[link] (ikpB) -- (contPaschos.north);
\brood{ikpb}{themelis}{chrisanthe}
\brood{themelis}{konstT}{georgiaT}
\draw[link] (nicholasIB) -- (sultanaT);
\draw[link] (sultanaB) -- (contAntares.north);
\draw[link] (euterposIB) -- (contTerpos.north);
\draw[link] (georgiaIB) -- (contPapadem.north);
\draw[link] (athanasiosTB) -- (daughters.north);
\brood{konstT}{euterposK}{mariaK}
\draw[link] (mariaKB) -- (hatzis.north);
\brood{christosK}{diedY}{vasilios}

% Pantelis and Ekaterina
\draw[link] (pantelisB) -- (pantelisB |- michaelPT);
\twig{pantelis}{diedP.east}
\twig{pantelis}{lamprosT}
\twig{pantelis}{eleftheriaT}
\twig{pantelis}{steliosT}
\twig{pantelis}{michaelPT}
\brood{lampros}{ekaterinaR}{thalia}
\draw[link] (ekaterinaRB) -- (charaT);
\brood{thalia}{charTsal}{savvas}
\brood{eleftheria}{anthoula}{peterG}
\brood{anthoula}{nestor}{paulP}
\brood{nestor}{niko}{sophieP}
\draw[link] (paulPB) -- (jacksonT);
\brood{chrisG}{alexandraC}{paula}
\brood{paula}{lillian}{parker}
\brood{peterG}{paulG}{michaelG}
\brood{paulG}{ryley}{talan}
\brood{stelios}{peterP}{katherineT}
\brood{katherineT}{walter}{robbie}
\brood{michaelP}{constance}{christopher}
\draw[link] (constanceB) -- (giannaT);
\draw[link] (christopherB) -- (michaelCT);

% Paschalis
\draw[link] (paschalis.south) -- (paschalis.south |- stellaT);
\draw[link] (harryT) -- (johnPT);
\draw[link] (stellaT) -- (tomAT);
\brood{harry}{lydia}{dianthe}
\draw[link] (lydiaB) -- (lydiaB |- katie.west);
\twig{lydia}{christinaT}
\brood{christina}{anastasiaB}{johnJB}
\twig{lydia}{stephenNT}
\brood{stephenN}{eva}{melina}
\twig{lydia}{eleniNLT}
\brood{eleniNL}{nikolia}{sotirios}
\draw[link] (akrivi.north) -- (akrivi.north |- nikoliaT);
\draw[link] (dionisios.north) -- (dionisios.north |- nikoliaT);
\twig{lydia}{katie.west}
\draw[link] (alexandraLB) -- (alexandraLB |- nicholasE.west);
\twig{alexandraL}{eugene3.west}
\twig{alexandraL}{alexanderP.west}
\twig{alexandraL}{nicholasE.west}
\draw[link] (diantheB) -- (diantheB |- apollinariaT);
\twig{dianthe}{kassianiT}
\brood{kassiani}{eleniD}{elizabeth}
\twig{dianthe}{micahT}
\draw[link] (micahB) -- (micahB |- anissaT);
\draw[link] (anissaT) -- (anissaT -| tba.north);
\foreach \k in {kalliope,isodoros,tba}
  \draw[link] (\k.north) -- (\k.north |- anissaT);
\twig{dianthe}{evstoliaT}
\brood{evstolia}{evlalia}{georgeA}
\twig{dianthe}{serafim.east}
\twig{dianthe}{mariamT}
\draw[link] (mariamB) -- (annaAT);
\twig{dianthe}{vikentiosT}
\twig{dianthe}{apollinariaT}
\draw[link] (apollinariaB) -- (anthimiaT);
\brood{johnP}{eleniN}{pashalis}
\draw[link, -{Latex[length=3.5pt,width=3pt]}] (johnPhilip.north) -- (eleniNB);
\brood{stella}{cynthia}{victoria}
\brood{cynthia}{andrewJ}{kristin}
\draw[link] (andrewJB) -- (andrewGT);
\brood{victoria}{chrisJ}{tammy}
\brood{chrisJ}{corbin}{sloan}
\brood{tomA}{eleniP}{pascalis}
\brood{pascalis}{georgiana}{sophiaT}

% Vasilios and Demetra
\draw[link] (vasiliosB) -- (vasiliosB |- angeloT);
\twig{vasilios}{christosPT}
\twig{vasilios}{tomBT}
\twig{vasilios}{angeloT}
\brood{christosP}{anna}{william}
\brood{anna}{evangelia}{christinaD}
\brood{william}{alexanderJ}{olivia}
\brood{tomB}{bill}{nicholasP}
\brood{dianeP}{gabrielle}{emmanuel}
\end{tikzpicture}
\end{document}
